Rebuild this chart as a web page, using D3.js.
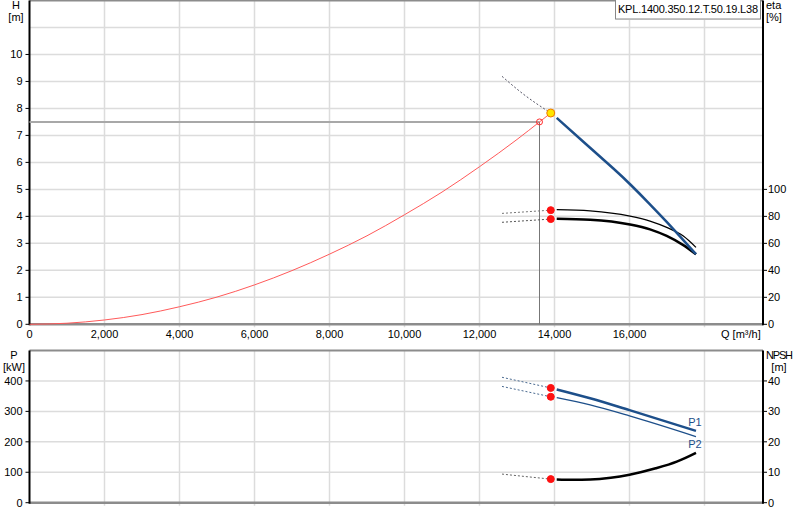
<!DOCTYPE html>
<meta charset="utf-8">
<script src="https://cdn.jsdelivr.net/npm/d3@7"></script>
<style>
  body { margin: 0; background: #fff; }
  svg { font-family: "Liberation Sans", Arial, sans-serif; font-size: 11px; }
</style>
<body>
<div id="vis"></div>
<script>
// ---- data ----
const qTicks = [0, 2000, 4000, 6000, 8000, 10000, 12000, 14000, 16000];
const hTicks = [0, 1, 2, 3, 4, 5, 6, 7, 8, 9, 10];
const etaTicks = [0, 20, 40, 60, 80, 100];
const pTicks = [0, 100, 200, 300, 400];
const npshTicks = [0, 10, 20, 30, 40];

// pump head curve (m)
const headQ = [14059, 14768, 15659, 16013, 16547, 16992, 17435, 17773];
const headH = [7.65, 6.76, 5.67, 5.20, 4.45, 3.80, 3.12, 2.60];
const headDotQ = [12600, 13160, 13900];
const headDotH = [9.19, 8.54, 7.83];

// system curve (m)
const sysQ = [0, 1000, 2000, 3000, 4000, 5000, 6000, 7000, 8000, 9000, 10000, 11000, 12000, 13000, 13600, 13900];
const sysH = [0, 0.04, 0.16, 0.36, 0.65, 1.01, 1.46, 1.99, 2.6, 3.28, 4.06, 4.9, 5.84, 6.85, 7.5, 7.83];

// efficiency curves (%)
const etaQ = [14059, 14950, 16013, 16547, 16992, 17435, 17773];
const eta1 = [85.0, 84.1, 80.2, 76.5, 71.8, 65.4, 57.0];
const eta2 = [78.2, 77.5, 74.0, 70.4, 65.5, 58.7, 51.9];
const etaDotQ = [12600, 13900];
const eta1Dot = [82.2, 84.6];
const eta2Dot = [75.6, 78.0];

// power curves (kW)
const powQ = [14059, 14950, 16000, 17773];
const powP1 = [372, 343, 304, 236];
const powP2 = [345, 321, 285, 217];
const powDotQ = [12600, 13900];
const powP1Dot = [412, 377];
const powP2Dot = [382, 348];

// NPSH curve (m)
const npshQ = [14059, 14500, 14950, 15500, 16000, 16700, 17260, 17773];
const npshV = [7.6, 7.5, 7.6, 8.2, 9.2, 11.3, 13.5, 16.4];
const npshDotQ = [12600, 13300, 13900];
const npshDotV = [9.4, 8.5, 7.75];

// duty point
const dutyQ = 13600, dutyH = 7.5;
const bepQ = 13900, bepH = 7.83;

const W = 800, H = 520;
const svg = d3.select("#vis").append("svg").attr("width", W).attr("height", H);

const left = 29.5, right = 763;
const x = d3.scaleLinear().domain([0, 19560]).range([left, right]);
const yH = d3.scaleLinear().domain([0, 12]).range([324.3, 0.5]);
const yEta = d3.scaleLinear().domain([0, 240]).range([324.3, 0.5]);
const yP = d3.scaleLinear().domain([0, 500]).range([502.7, 350.5]);
const yN = d3.scaleLinear().domain([0, 50]).range([502.7, 350.5]);

const grid = "#dcdcdc", blue = "#1d4f8a";

function panel(y, yTop, yBot, gridVals) {
  const g = svg.append("g");
  // vertical grid
  g.selectAll(".vg").data(qTicks.slice(1).concat([18000])).enter().append("line")
    .attr("x1", d => x(d)).attr("x2", d => x(d))
    .attr("y1", yTop).attr("y2", yBot + 3)
    .attr("stroke", grid).attr("stroke-width", 1.5);
  // horizontal grid
  g.selectAll(".hg").data(gridVals).enter().append("line")
    .attr("x1", left).attr("x2", right)
    .attr("y1", d => y(d)).attr("y2", d => y(d))
    .attr("stroke", grid).attr("stroke-width", 1.5);
  g.append("line").attr("x1", left).attr("x2", right).attr("y1", yTop).attr("y2", yTop)
    .attr("stroke", "#8c8c8c").attr("stroke-width", 2);
  g.append("line").attr("x1", left).attr("x2", right).attr("y1", yBot).attr("y2", yBot)
    .attr("stroke", "#8c8c8c").attr("stroke-width", 2.5);
  g.append("line").attr("x1", left).attr("x2", left).attr("y1", yTop).attr("y2", yBot + 1)
    .attr("stroke", "#000").attr("stroke-width", 2);
  g.append("line").attr("x1", right).attr("x2", right).attr("y1", yTop).attr("y2", yBot + 1)
    .attr("stroke", "#000").attr("stroke-width", 2);
  return g;
}

const gTop = panel(yH, 0.5, 324.3, d3.range(1, 12));
const gBot = panel(yP, 350.5, 502.7, [100, 200, 300, 400]);

// left axes
function leftAxis(g, scale, ticks) {
  const t = g.selectAll(".lt").data(ticks).enter();
  t.append("line").attr("x1", left - 4).attr("x2", left).attr("y1", d => scale(d)).attr("y2", d => scale(d))
    .attr("stroke", "#000");
  t.append("text").attr("x", left - 7).attr("y", d => scale(d)).attr("dy", "0.35em")
    .attr("text-anchor", "end").text(d => d);
}
function rightAxis(g, scale, ticks) {
  const t = g.selectAll(".rt").data(ticks).enter();
  t.append("line").attr("x1", right).attr("x2", right + 4).attr("y1", d => scale(d)).attr("y2", d => scale(d))
    .attr("stroke", "#000");
  t.append("text").attr("x", right + 5).attr("y", d => scale(d)).attr("dy", "0.35em")
    .text(d => d);
}
leftAxis(gTop, yH, hTicks);
rightAxis(gTop, yEta, etaTicks);
leftAxis(gBot, yP, pTicks);
rightAxis(gBot, yN, npshTicks);

// x tick labels
gTop.selectAll(".xl").data(qTicks).enter().append("text")
  .attr("x", d => x(d)).attr("y", 338).attr("text-anchor", "middle")
  .text(d3.format(","));
gTop.append("text").attr("x", 721).attr("y", 338).text("Q [m³/h]");

// unit labels
svg.append("text").attr("x", 16).attr("y", 9).attr("text-anchor", "middle").text("H");
svg.append("text").attr("x", 16).attr("y", 21).attr("text-anchor", "middle").text("[m]");
svg.append("text").attr("x", 766).attr("y", 9).text("eta");
svg.append("text").attr("x", 766).attr("y", 21).text("[%]");
svg.append("text").attr("x", 14).attr("y", 359).attr("text-anchor", "middle").text("P");
svg.append("text").attr("x", 14).attr("y", 371).attr("text-anchor", "middle").text("[kW]");
svg.append("text").attr("x", 766).attr("y", 359).attr("textLength", 27).text("NPSH");
svg.append("text").attr("x", 779).attr("y", 371).attr("text-anchor", "middle").text("[m]");

// title box
svg.append("rect").attr("x", 615.5).attr("y", -2).attr("width", 145).attr("height", 21)
  .attr("fill", "#fff").attr("stroke", "#888").attr("stroke-width", 1);
svg.append("line").attr("x1", 616).attr("x2", 761).attr("y1", 19.5).attr("y2", 19.5).attr("stroke", "#bbb");
svg.append("text").attr("x", 618).attr("y", 13).attr("textLength", 140).text("KPL.1400.350.12.T.50.19.L38");

// helpers
const zip = (qs, vs) => qs.map((q, i) => [q, vs[i]]);
function curve(g, qs, vs, scale, color, width, dash, kind) {
  g.append("path")
    .datum(zip(qs, vs))
    .attr("d", d3.line().x(d => x(d[0])).y(d => scale(d[1])).curve(kind || d3.curveMonotoneX))
    .attr("fill", "none").attr("stroke", color).attr("stroke-width", width)
    .attr("stroke-dasharray", dash || null);
}
function dot(g, q, v, scale, fill, stroke, r) {
  g.append("circle").attr("cx", x(q)).attr("cy", scale(v)).attr("r", r)
    .attr("fill", fill).attr("stroke", stroke).attr("stroke-width", 1);
}

// duty lines
gTop.append("line").attr("x1", left).attr("x2", x(dutyQ)).attr("y1", yH(dutyH)).attr("y2", yH(dutyH))
  .attr("stroke", "#a8a8a8").attr("stroke-width", 2);
gTop.append("line").attr("x1", x(dutyQ)).attr("x2", x(dutyQ)).attr("y1", yH(dutyH)).attr("y2", yH(0))
  .attr("stroke", "#777").attr("stroke-width", 1);

// system curve
curve(gTop, sysQ, sysH, yH, "#ff5a5a", 1);

// efficiency
curve(gTop, etaDotQ, eta1Dot, yEta, "#777", 1, "2,2");
curve(gTop, etaDotQ, eta2Dot, yEta, "#555", 1, "2,2");
curve(gTop, etaQ, eta1, yEta, "#000", 1.3);
curve(gTop, etaQ, eta2, yEta, "#000", 2.5);

// head
curve(gTop, headDotQ, headDotH, yH, "#556", 1, "2,2");
curve(gTop, headQ, headH, yH, blue, 2.5, null, d3.curveBasis);

dot(gTop, dutyQ, dutyH, yH, "none", "#ff3030", 3);
dot(gTop, bepQ, eta1Dot[1], yEta, "#ff1010", "#ff1010", 3.5);
dot(gTop, bepQ, eta2Dot[1], yEta, "#ff1010", "#ff1010", 3.5);
dot(gTop, bepQ, bepH, yH, "#ffe600", "#f07800", 4);

// power
curve(gBot, powDotQ, powP1Dot, yP, "#4a6a90", 1, "2,2");
curve(gBot, powDotQ, powP2Dot, yP, "#4a6a90", 1, "2,2");
curve(gBot, powQ, powP1, yP, blue, 2.5);
curve(gBot, powQ, powP2, yP, blue, 1.3);
gBot.append("text").attr("x", 695).attr("y", yP(powP1[3]) - 5).attr("text-anchor", "middle")
  .attr("fill", blue).text("P1");
gBot.append("text").attr("x", 695).attr("y", yP(powP2[3]) + 11).attr("text-anchor", "middle")
  .attr("fill", blue).text("P2");

// NPSH
curve(gBot, npshDotQ, npshDotV, yN, "#666", 1, "2,2");
curve(gBot, npshQ, npshV, yN, "#000", 2.5);

dot(gBot, bepQ, powP1Dot[1], yP, "#ff1010", "#ff1010", 3.5);
dot(gBot, bepQ, powP2Dot[1], yP, "#ff1010", "#ff1010", 3.5);
dot(gBot, bepQ, npshDotV[2], yN, "#ff1010", "#ff1010", 3.5);
</script>
</body>
